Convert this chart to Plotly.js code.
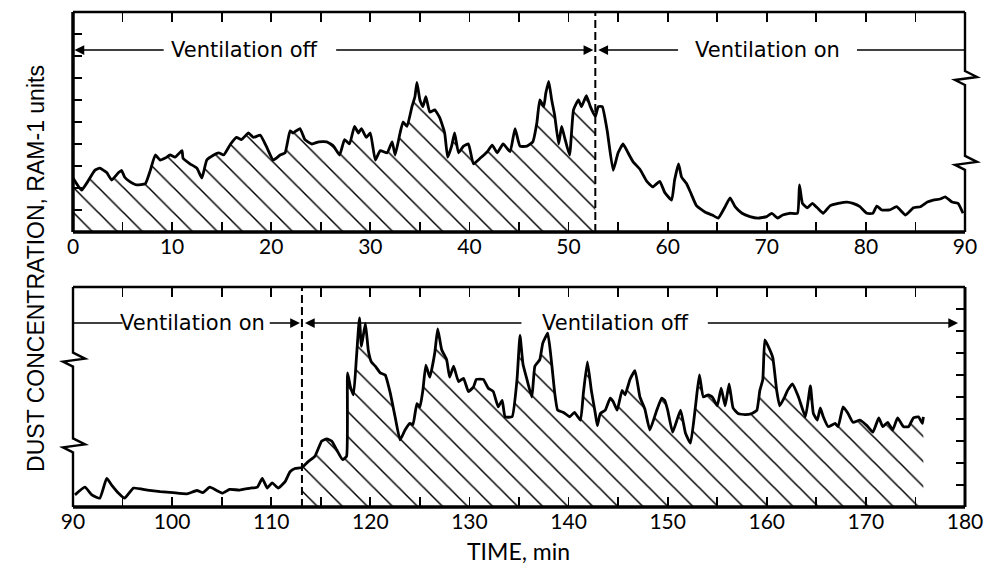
<!DOCTYPE html>
<html>
<head>
<meta charset="utf-8">
<script src="https://cdn.plot.ly/plotly-3.0.1.min.js"></script>
<style>html,body{margin:0;padding:0;background:#fff}#chart{width:987px;height:566px}</style>
</head>
<body>
<div id="chart"></div>
<script>
// ---- Data ----
const topTime = [0.0,0.5,0.87,1.5,2.2,2.7,3.4,3.9,4.6,4.9,5.2,5.7,6.4,7.3,7.8,8.3,8.8,9.3,9.8,10.3,11.0,11.1,11.8,12.5,13.0,13.5,14.2,14.7,15.2,15.9,16.5,17.0,17.7,18.2,18.9,19.5,20.2,20.9,21.4,21.9,22.2,22.9,23.4,24.1,24.8,25.6,26.3,26.9,27.4,27.9,28.4,28.8,29.1,29.6,30.0,30.5,31.0,31.7,32.2,32.5,33.0,33.3,33.7,34.2,34.5,34.7,35.0,35.3,35.6,36.0,36.5,37.0,37.5,37.8,38.2,38.5,38.9,39.4,39.9,40.4,41.1,41.8,42.3,42.8,43.4,44.1,44.6,45.1,45.8,46.4,46.8,47.1,47.5,47.7,48.0,48.3,48.6,49.0,49.3,49.6,50.1,50.5,51.0,51.3,51.8,52.2,52.7,53.0,53.4,53.9,54.5,55.0,55.5,56.0,56.5,57.2,57.9,58.5,59.2,59.7,60.4,60.7,61.1,61.4,61.9,62.4,62.9,63.8,64.5,65.1,65.8,66.3,66.8,67.5,68.3,69.1,70.0,70.5,71.1,71.6,72.3,73.1,73.3,73.6,74.1,74.6,75.1,75.7,76.4,77.2,78.1,78.7,79.4,80.1,80.7,81.1,81.6,82.4,83.1,84.0,84.8,85.5,86.2,86.8,87.5,88.0,88.7,89.3,89.8];
const topDust = [2.45,2.1,1.9,2.3,2.8,2.9,2.7,2.36,2.7,2.8,2.5,2.3,2.14,2.2,2.8,3.5,3.27,3.36,3.5,3.4,3.7,3.36,3.1,2.9,2.45,3.27,3.5,3.6,3.5,4.0,4.3,4.2,4.5,4.3,4.4,3.9,3.27,3.5,3.6,4.6,4.5,4.7,4.2,4.0,4.1,4.1,3.9,3.5,4.2,4.0,4.8,4.5,4.7,4.3,4.5,3.27,3.7,3.6,4.1,3.5,4.5,5.0,4.8,5.7,6.15,6.8,6.0,5.7,6.15,5.45,5.55,5.2,4.5,3.4,3.9,4.5,3.6,3.9,4.0,3.1,3.36,3.65,3.95,3.6,4.0,3.65,4.7,3.9,3.9,4.1,4.95,6.0,5.7,6.3,6.85,6.0,5.3,4.0,4.8,4.3,3.5,5.55,6.0,5.7,6.2,5.7,5.25,5.7,5.7,4.6,2.8,3.6,4.0,3.6,3.2,2.85,2.3,2.05,2.3,1.8,1.45,2.36,3.1,2.5,2.2,1.7,1.2,0.9,0.77,0.63,1.15,1.55,1.15,0.85,0.7,0.63,0.7,0.85,0.63,0.77,0.85,0.85,2.14,1.3,1.1,1.3,1.1,0.85,1.2,1.3,1.36,1.3,1.15,0.85,0.85,1.18,1.0,1.0,1.15,0.77,1.1,1.15,1.36,1.45,1.5,1.6,1.36,1.3,0.85];

const botTime = [90.2,91.2,91.9,92.7,93.4,93.9,94.6,95.2,96.1,97.5,98.8,100.1,101.5,102.5,103.1,103.8,104.5,105.1,105.8,106.8,107.9,108.6,109.1,109.6,110.1,110.7,111.4,111.9,112.4,113.1,113.7,114.4,115.1,115.6,116.1,116.6,117.2,117.6,117.7,118.0,118.3,118.6,118.9,119.1,119.5,119.8,120.1,120.5,121.0,121.5,122.0,122.5,123.0,123.5,124.0,124.3,124.7,125.0,125.3,125.6,126.0,126.5,126.8,127.2,127.7,128.0,128.4,128.9,129.4,129.9,130.4,130.7,131.4,131.9,132.4,132.9,133.3,133.6,134.3,134.8,135.1,135.4,135.8,136.3,136.6,137.1,137.4,137.9,138.3,138.6,138.9,139.5,140.1,140.6,141.2,141.5,141.9,142.3,142.7,142.9,143.2,143.7,144.2,144.5,144.9,145.4,145.7,146.2,146.7,147.2,147.7,148.2,148.9,149.4,149.7,150.0,150.5,151.3,151.8,152.3,152.8,153.2,153.6,154.1,154.5,155.0,155.4,155.8,156.2,156.6,157.1,157.8,158.5,159.0,159.3,159.6,159.8,160.1,160.6,161.0,161.3,161.8,162.1,162.6,163.2,163.9,164.4,164.7,165.1,165.4,165.7,166.2,166.9,167.2,167.7,168.2,168.7,169.4,170.1,170.7,171.3,171.7,172.2,172.7,173.2,173.8,174.3,174.8,175.3,175.7,175.8];
const botDust = [0.55,0.9,0.55,0.4,1.3,1.0,0.63,0.4,0.86,0.77,0.7,0.65,0.6,0.75,0.65,0.9,0.75,0.63,0.8,0.77,0.86,0.9,1.3,0.86,1.1,0.86,1.15,1.6,1.75,1.8,2.05,2.3,3.0,3.1,3.0,2.6,2.15,2.3,6.1,5.45,5.1,6.8,8.6,7.3,8.35,7.1,6.6,6.4,6.1,6.0,5.2,4.1,3.05,3.5,3.8,3.75,4.7,4.55,5.3,6.45,5.9,7.0,8.1,7.15,6.7,5.9,6.4,5.7,5.85,5.25,5.45,5.8,5.8,5.4,5.25,4.55,4.85,4.1,4.1,5.8,7.8,6.5,5.8,5.0,6.4,6.7,7.45,7.9,6.5,5.2,4.4,4.3,4.1,4.3,3.95,5.2,6.6,5.3,4.25,3.7,4.25,4.4,4.95,4.8,4.4,5.3,5.1,5.8,6.2,5.0,4.45,3.5,4.4,4.95,4.85,4.4,3.4,4.4,3.35,2.9,4.55,6.0,5.0,5.1,5.0,4.6,5.4,4.6,5.6,4.5,4.25,4.2,4.25,4.4,5.3,5.8,7.6,7.35,6.8,5.3,4.6,5.0,5.3,5.6,5.0,4.1,5.5,4.25,3.95,4.5,4.1,3.65,3.8,3.65,4.55,4.25,3.85,3.95,3.7,3.4,4.05,3.65,3.85,3.5,4.05,3.65,3.65,4.05,4.1,3.8,4.1];

// ventilation-off periods (min)
const topOff = [0, 52.7];
const botOff = [113.1, 176];
const topRange = [0, 90];
const botRange = [90, 180];
const yRange = [0, 10];

// panel domains (paper fractions)
const topDom = [0.5556, 1];
const botDom = [0, 0.4444];

// ---- helpers ----
function subset(t, v, lo, hi) {
  const xs = [], ys = [];
  for (let i = 0; i < t.length; i++) {
    if (t[i] >= lo && t[i] <= hi) { xs.push(t[i]); ys.push(v[i]); }
  }
  return {x: xs, y: ys};
}
const topHatch = subset(topTime, topDust, topOff[0], topOff[1]);
const botHatch = subset(botTime, botDust, botOff[0], botOff[1]);

const pattern = {shape: '\\', size: 17.7, solidity: 0.085, fgcolor: '#000', bgcolor: 'rgba(0,0,0,0)'};

const traces = [
  {x: topHatch.x, y: topHatch.y, xaxis: 'x', yaxis: 'y', type: 'scatter', mode: 'lines',
   line: {width: 0, color: 'rgba(0,0,0,0)'}, fill: 'tozeroy', fillcolor: 'rgba(0,0,0,0)',
   fillpattern: pattern, hoverinfo: 'skip'},
  {x: botHatch.x, y: botHatch.y, xaxis: 'x2', yaxis: 'y2', type: 'scatter', mode: 'lines',
   line: {width: 0, color: 'rgba(0,0,0,0)'}, fill: 'tozeroy', fillcolor: 'rgba(0,0,0,0)',
   fillpattern: pattern, hoverinfo: 'skip'},
  {x: topTime, y: topDust, xaxis: 'x', yaxis: 'y', type: 'scatter', mode: 'lines',
   line: {width: 2.8, color: '#000', shape: 'spline', smoothing: 0.4}},
  {x: botTime, y: botDust, xaxis: 'x2', yaxis: 'y2', type: 'scatter', mode: 'lines',
   line: {width: 2.8, color: '#000', shape: 'spline', smoothing: 0.4}}
];

const tickFont = {family: 'Lato, "DejaVu Sans", sans-serif', size: 21, color: '#000'};
function xAxis(range, anchor) {
  return {
    anchor: anchor, domain: [0, 1], range: range, dtick: 10, tick0: 0,
    ticks: 'inside', ticklen: 10, tickwidth: 1.8, tickcolor: '#000',
    mirror: 'ticks', showline: false, showgrid: false, zeroline: false,
    tickfont: tickFont, fixedrange: true,
    minor: {dtick: 5, ticks: 'inside', ticklen: 10, tickwidth: 1.8, tickcolor: '#000', showgrid: false}
  };
}
function yAxis(domain, anchor, side) {
  return {
    anchor: anchor, domain: domain, range: yRange, dtick: 1, side: side,
    ticks: 'inside', ticklen: 9, tickwidth: 1.8, tickcolor: '#000',
    showticklabels: false, showline: false, showgrid: false, zeroline: false, fixedrange: true
  };
}

function frame(dom, w) {
  const L = (x0, y0, x1, y1, width) => ({type: 'line', xref: 'paper', yref: 'paper', x0, y0, x1, y1,
    line: {color: '#000', width: width}});
  return [
    L(0, dom[0], 1, dom[0], w.bottom), L(0, dom[1], 1, dom[1], w.top),
    L(0, dom[0], 0, dom[1], w.left), L(1, dom[0], 1, dom[1], w.right)
  ];
}
function toPaper(dom, v) { return dom[0] + (v - yRange[0]) / (yRange[1] - yRange[0]) * (dom[1] - dom[0]); }
function breakMark(xp, dom, v) {
  const yp = toPaper(dom, v);
  return [
    {type: 'line', xref: 'paper', yref: 'paper', xsizemode: 'pixel', ysizemode: 'pixel',
     xanchor: xp, yanchor: yp, x0: 0, x1: 0, y0: -6, y1: 6, line: {color: '#fff', width: 7}},
    {type: 'path', xref: 'paper', yref: 'paper', xsizemode: 'pixel', ysizemode: 'pixel',
     xanchor: xp, yanchor: yp, path: 'M0,7 L12,1 L-10,-2 L0,-7',
     line: {color: '#000', width: 2.4}}
  ];
}
function hline(xr, yr, x0, x1, y) {
  return {type: 'line', xref: xr, yref: yr, x0, x1, y0: y, y1: y, line: {color: '#000', width: 1.5}};
}
function vdash(xr, yr, x) {
  return {type: 'line', xref: xr, yref: yr, x0: x, x1: x, y0: yRange[0], y1: yRange[1],
          line: {color: '#000', width: 2, dash: '8px,4px'}};
}

const shapes = [].concat(
  frame(topDom, {bottom: 3.5, top: 2.4, left: 3.5, right: 2.4}),
  frame(botDom, {bottom: 3.5, top: 2.4, left: 2.4, right: 3.0}),
  [vdash('x', 'y', topOff[1]), vdash('x2', 'y2', botOff[0])],
  [hline('x', 'y', 79.1, 90, 8.27), hline('x2', 'y2', 90, 95.0, 8.36)],
  breakMark(1, topDom, 7.0), breakMark(1, topDom, 3.14),
  breakMark(0, botDom, 6.7), breakMark(0, botDom, 2.8)
);

const annFont = {family: '"DejaVu Sans", sans-serif', size: 21, color: '#000'};
function label(xr, yr, x, y, text) {
  return {xref: xr, yref: yr, x, y, text, showarrow: false, font: annFont, xanchor: 'center', yanchor: 'middle'};
}
function arrow(xr, yr, tail, head, y) {
  return {xref: xr, yref: yr, axref: xr, ayref: yr, x: head, y: y, ax: tail, ay: y, text: '',
          showarrow: true, arrowhead: 2, arrowsize: 1.3, arrowwidth: 1.5, arrowcolor: '#000',
          standoff: 0, startstandoff: 0};
}

const annotations = [
  label('x', 'y', 17.3, 8.27, 'Ventilation off'),
  arrow('x', 'y', 9.3, 0.15, 8.27),
  arrow('x', 'y', 26.4, 52.5, 8.27),
  label('x', 'y', 70.1, 8.27, 'Ventilation on'),
  arrow('x', 'y', 61.2, 53.0, 8.27),
  label('x2', 'y2', 102.1, 8.36, 'Ventilation on'),
  arrow('x2', 'y2', 109.7, 112.9, 8.36),
  label('x2', 'y2', 144.7, 8.36, 'Ventilation off'),
  arrow('x2', 'y2', 135.4, 113.4, 8.36),
  arrow('x2', 'y2', 153.9, 179.3, 8.36),
  {xref: 'paper', yref: 'paper', x: 0.499, y: -0.089, text: 'TIME, min', showarrow: false,
   xanchor: 'center', yanchor: 'middle', font: {family: 'Lato, "DejaVu Sans", sans-serif', size: 23, color: '#000'}},
  {xref: 'paper', yref: 'paper', x: -0.0415, y: 0.483, text: 'DUST CONCENTRATION, RAM-1 units', showarrow: false,
   textangle: -90, xanchor: 'center', yanchor: 'middle',
   font: {family: '"Liberation Sans", Arial, sans-serif', size: 23, color: '#000'}}
];

const layout = {
  width: 987, height: 566,
  margin: {l: 73, r: 22, t: 12, b: 59},
  paper_bgcolor: '#fff', plot_bgcolor: '#fff',
  showlegend: false,
  xaxis: xAxis(topRange, 'y'),
  yaxis: yAxis(topDom, 'x', 'left'),
  xaxis2: xAxis(botRange, 'y2'),
  yaxis2: yAxis(botDom, 'x2', 'right'),
  shapes: shapes,
  annotations: annotations
};

Plotly.newPlot('chart', traces, layout, {staticPlot: true, displayModeBar: false});
</script>
</body>
</html>
